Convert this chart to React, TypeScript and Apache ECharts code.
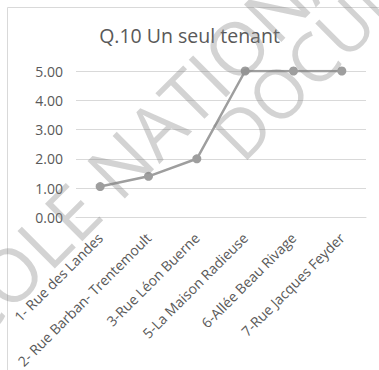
import React, { useEffect, useRef } from "react";
import * as echarts from "echarts";

const title = "Q.10 Un seul tenant";
const categories = [
  "1- Rue des Landes",
  "2- Rue Barban- Trentemoult",
  "3-Rue Léon Buerne",
  "5-La Maison Radieuse",
  "6-Allée Beau Rivage",
  "7-Rue Jacques Feyder",
];
const values = [1.05, 1.4, 2.0, 5.0, 5.0, 5.0];
const yMin = 0;
const yMax = 5;
const yInterval = 1;
const watermarkLines = ["ÉCOLE NATIONALE SUPÉRIEURE", "DOCUMENT SOUMIS AU DROIT D'AUTEUR"];

const FONT = "'Open Sans', 'Noto Sans', sans-serif";
const TEXT = "#595959";
const GRID = "#d9d9d9";
const LINE = "#9e9e9e";

export default function App() {
  const ref = useRef<HTMLDivElement>(null);
  useEffect(() => {
    document.body.style.margin = "0";
    if (!ref.current) return;
    const chart = echarts.init(ref.current, null, { renderer: "svg" });
    const ang = (45 * Math.PI) / 180;
    chart.setOption({
      animation: false,
      backgroundColor: "#ffffff",
      title: {
        text: title,
        left: "center",
        top: 20,
        textStyle: { fontFamily: FONT, fontSize: 19.5, fontWeight: "normal", color: TEXT },
      },
      grid: { left: 76, right: 13, top: 71, bottom: 152.7, outerBoundsMode: "none", containLabel: false },
      xAxis: {
        type: "category",
        data: categories,
        boundaryGap: true,
        axisTick: { show: false },
        axisLine: { lineStyle: { color: GRID, width: 1 } },
        axisLabel: {
          interval: 0,
          rotate: 45,
          margin: 18,
          fontFamily: FONT,
          fontSize: 14,
          color: TEXT,
        },
      },
      yAxis: {
        type: "value",
        min: yMin,
        max: yMax,
        interval: yInterval,
        axisLine: { show: false },
        axisTick: { show: false },
        splitLine: { lineStyle: { color: GRID, width: 1 } },
        axisLabel: {
          margin: 13,
          fontFamily: FONT,
          fontSize: 14,
          color: TEXT,
          formatter: (v: number) => v.toFixed(2),
        },
      },
      series: [
        {
          type: "line",
          data: values,
          symbol: "circle",
          symbolSize: 9,
          lineStyle: { color: LINE, width: 2.5 },
          itemStyle: { color: LINE },
          z: 3,
        },
      ],
      graphic: [
        {
          type: "rect",
          z: 0,
          shape: { x: 7.5, y: 7.5, width: 400, height: 400 },
          style: { fill: "none", stroke: GRID, lineWidth: 1 },
        },
        {
          type: "text",
          z: 100,
          x: -73,
          y: 356,
          rotation: ang,
          style: {
            text: watermarkLines[0],
            fontFamily: FONT,
            fontSize: 74,
            fill: "rgba(128,128,128,0.35)",
            textAlign: "left",
            textVerticalAlign: "middle",
          },
        },
        {
          type: "text",
          z: 100,
          x: 224,
          y: 146,
          rotation: ang,
          style: {
            text: watermarkLines[1],
            fontFamily: FONT,
            fontSize: 68,
            fill: "rgba(128,128,128,0.35)",
            textAlign: "left",
            textVerticalAlign: "middle",
          },
        },
      ],
    });
    return () => chart.dispose();
  }, []);
  return <div ref={ref} style={{ width: 379, height: 370 }} />;
}
